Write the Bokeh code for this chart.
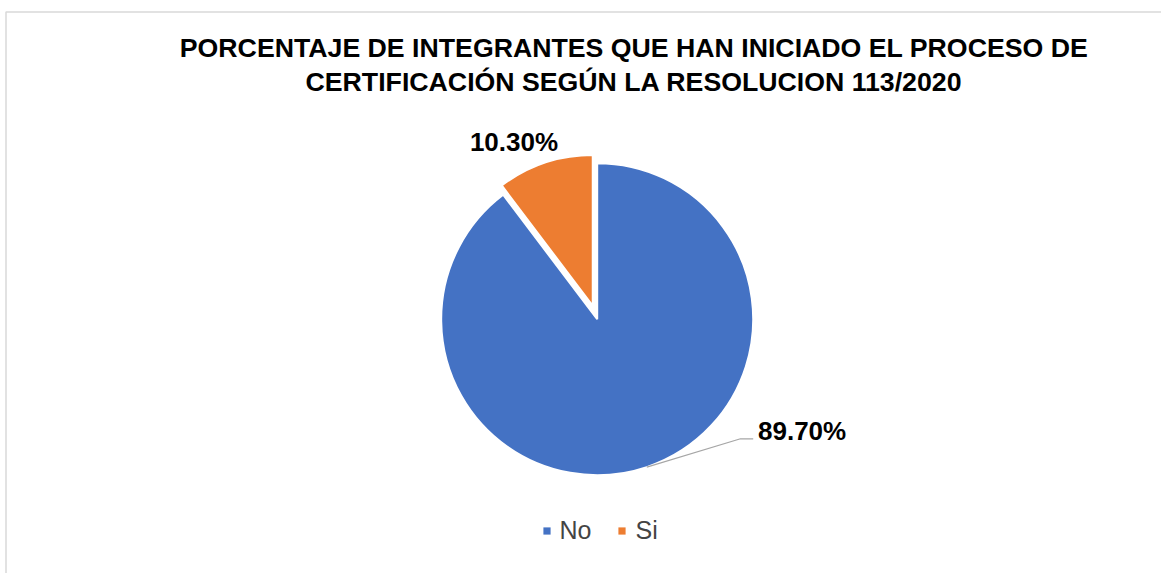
import math
from bokeh.plotting import figure
from bokeh.models import Range1d, Legend, LegendItem, ColumnDataSource
from bokeh.core.properties import value
from bokeh.embed import file_html
from bokeh.resources import INLINE

# ---- data ----
categories = ["No", "Si"]
percentages = [89.70, 10.30]
colors = ["#4472C4", "#ED7D31"]
title_lines = ["PORCENTAJE DE INTEGRANTES QUE HAN INICIADO EL PROCESO DE",
               "CERTIFICACIÓN SEGÚN LA RESOLUCION 113/2020"]

# ---- layout (pixel-like coordinates: x = page x, y = 581 - page y) ----
W, H = 1161, 573
def Y(py):
    return 581 - py

cx, cy = 596.7, Y(318.7)
radius = [156, 151]
explode = [0, 14]

p = figure(width=W, height=H, x_range=Range1d(0, 1161), y_range=Range1d(8, 581),
           output_backend="svg", toolbar_location=None, min_border=0)
p.axis.visible = False
p.grid.visible = False
p.outline_line_color = None
p.background_fill_color = "white"
p.border_fill_color = "white"

# chart border
p.quad(left=[5.5], right=[1300], bottom=[-100], top=[Y(11.5)],
       fill_color=None, line_color="#D9D9D9", line_width=1.5)

total = sum(percentages)
start = 90.0
legend_renderers = []
mids = []
for cat, pct, col, r, ex in zip(categories, percentages, colors, radius, explode):
    sweep = 360.0 * pct / total
    end = start - sweep
    mid = math.radians((start + end) / 2)
    mids.append(mid)
    x0 = cx + ex * math.cos(mid)
    y0 = cy + ex * math.sin(mid)
    src = ColumnDataSource(dict(x=[x0], y=[y0], r=[r],
                                s=[math.radians(start)], e=[math.radians(end)]))
    p.wedge(x="x", y="y", radius="r", start_angle="s", end_angle="e",
            direction="clock", fill_color=col, line_color="white",
            line_width=2, source=src)
    # legend swatch (off-canvas area glyph so the legend shows a clean square)
    lr = p.quad(left=[-600], right=[-590], bottom=[-600], top=[-590],
                fill_color=col, line_color=None)
    legend_renderers.append(lr)
    start = end

# labels
lab_font = value("Liberation Sans")
p.text(x=[513.5], y=[Y(141)], text=[f"{percentages[1]:.2f}%"], text_font=lab_font,
       text_font_size="26px", text_font_style="bold", text_align="center",
       text_baseline="alphabetic", text_color="black")
p.text(x=[757.5], y=[Y(430)], text=[f"{percentages[0]:.2f}%"], text_font=lab_font,
       text_font_size="26px", text_font_style="bold", text_align="left",
       text_baseline="alphabetic", text_color="black")

# leader line for "No"
m = mids[0]
lx0 = cx + radius[0] * math.cos(m)
ly0 = cy + radius[0] * math.sin(m)
p.line(x=[lx0, 740, 752.7], y=[ly0, Y(438.3), Y(438.3)], line_color="#A6A6A6", line_width=1.2)

# title
p.text(x=[633.5, 633.5], y=[Y(47), Y(81)], text=title_lines, text_font=lab_font,
       text_font_size="26.7px", text_font_style="bold", text_align="center",
       text_baseline="alphabetic", text_color="black")

legend = Legend(items=[LegendItem(label=c, renderers=[r]) for c, r in zip(categories, legend_renderers)],
                orientation="horizontal", location=(541.5, Y(545) - 8),
                glyph_width=9, glyph_height=9, label_standoff=9, spacing=26,
                label_text_font="Liberation Sans", label_text_font_size="25px",
                border_line_color=None, background_fill_alpha=0, padding=0, margin=0)
p.add_layout(legend, "center")

open("out.html", "w").write(file_html(p, INLINE))
